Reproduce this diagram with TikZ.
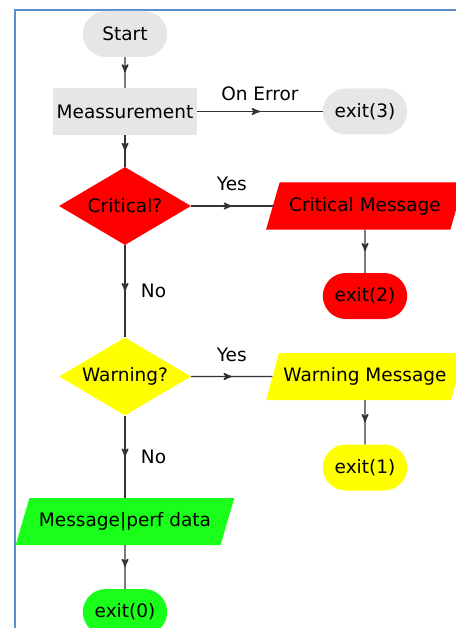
\documentclass[tikz,border=0pt]{standalone}
\usepackage{fontspec}
\setmainfont{DejaVu Sans}
\usepackage{tikz}
\usepackage{xcolor}
\usetikzlibrary{arrows,positioning,shapes.geometric,shapes.misc,decorations.markings}
\tikzset{%
	terminal/.style={rounded rectangle, draw=none, fill=LightGrey,
		text centered, minimum width=91pt, minimum height=46pt},
	process/.style={rectangle, draw=none, fill=LightGrey,
		text centered, minimum width=144pt, minimum height=47pt},
	decision/.style={diamond, draw=none, aspect=1.7, inner sep=0pt,
		text centered, minimum width=132pt, minimum height=78pt},
	message/.style={trapezium, trapezium left angle=63, trapezium right angle=117,
		trapezium stretches=true, draw=none, text centered,
		minimum width=198pt, minimum height=47pt},
	flow/.style={draw=LineGrey, line width=1.3pt, postaction={decorate},
		decoration={markings, mark=at position 0.5 with {\arrow[scale=1.25]{>}}}},
}
\definecolor{LightGrey}{RGB}{230,230,230}
\definecolor{AlarmRed}{RGB}{255,0,0}
\definecolor{WarnYellow}{RGB}{255,255,0}
\definecolor{OkGreen}{RGB}{26,255,26}
\definecolor{LineGrey}{RGB}{51,51,51}
\definecolor{FrameBlue}{RGB}{91,141,205}

\begin{document}
\begin{tikzpicture}[
    x=1pt,y=1pt,>=stealth',node distance=240pt,
    font=\fontsize{18.5}{22}\selectfont]

    \useasboundingbox (0,0) rectangle (455,-628);
    \draw[FrameBlue, line width=2pt] (15,-10) rectangle (480,-660);

    \node [terminal] (Start) at (125,-34) {Start};
    \node [process] (Meas) [below of = Start, node distance=77.5pt] {Meassurement};
    \node [terminal] (Exit3) [right of = Meas] {exit(3)};

    \node [decision, fill=AlarmRed] (Critical) [below of = Meas, node distance=94.5pt] {Critical?};
    \node [message, fill=AlarmRed] (CritMsg) [right of = Critical] {Critical Message};
    \node [terminal, fill=AlarmRed] (Exit2) [below of = CritMsg, node distance=90pt] {exit(2)};

    \node [decision, fill=WarnYellow] (Warning) [below of = Critical, node distance=170.5pt] {Warning?};
    \node [message, fill=WarnYellow] (WarnMsg) [right of = Warning] {Warning Message};
    \node [terminal, fill=WarnYellow] (Exit1) [below of = WarnMsg, node distance=91pt] {exit(1)};

    \node [message, fill=OkGreen, minimum width=219pt] (PerfMsg) [below of = Warning, node distance=145pt] {Message|perf data};
    \node [terminal, fill=OkGreen] (Exit0) [below of = PerfMsg, node distance=90.5pt] {exit(0)};

    \path (Start) edge[flow] (Meas);
    \path (Meas) edge[flow] node[above=7pt] {On Error} (Exit3);
    \path (Meas) edge[flow] (Critical);
    \path (Critical) edge[flow] node[above=11pt] {Yes} (CritMsg);
    \path (CritMsg) edge[flow] (Exit2);
    \path (Critical) edge[flow] node[right=12pt] {No} (Warning);
    \path (Warning) edge[flow] node[above=11pt] {Yes} (WarnMsg);
    \path (WarnMsg) edge[flow] (Exit1);
    \path (Warning) edge[flow] node[right=12pt] {No} (PerfMsg);
    \path (PerfMsg) edge[flow] (Exit0);

    \end{tikzpicture}
\end{document}
